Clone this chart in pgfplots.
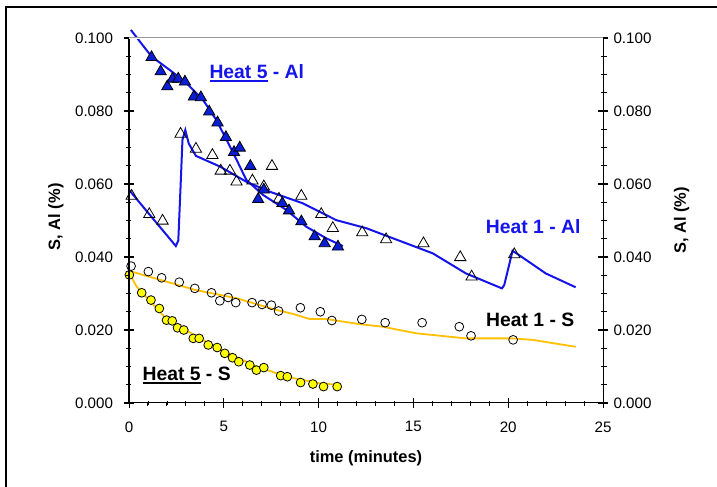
\documentclass[border=0pt]{standalone}
\usepackage{fontspec}
\setmainfont{Liberation Sans}
\usepackage{pgfplots}
\pgfplotsset{compat=1.18}

\definecolor{alblue}{RGB}{20,20,235}
\definecolor{sgold}{RGB}{255,192,0}
\definecolor{markblue}{RGB}{10,30,215}
\definecolor{markyellow}{RGB}{255,255,0}

% thick underline for part of a label
\newcommand{\thickul}[1]{\setbox0\hbox{#1}\rlap{\rule[-3.4bp]{\wd0}{1.8bp}}\box0{}}

\begin{document}
\begin{tikzpicture}[x=1bp,y=1bp]
\useasboundingbox (-129,-84) rectangle (588,403);
% chart frame
\draw[line width=2.2bp] (-123,-95) -- (-123,396) -- (600,396);

\pgfplotsset{
  common/.style={
    at={(0,0)}, anchor=south west, scale only axis,
    width=474bp, height=365bp,
    xmin=0, xmax=25, ymin=0, ymax=0.1,
    ytick={0,0.02,0.04,0.06,0.08,0.1},
    minor y tick num=3,
    tick align=center, major tick length=10bp, minor tick length=4bp,
    tick style={black, line width=0.8bp},
    axis line style={black, line width=1bp},
    ticklabel style={font=\fontsize{15.2}{18}\selectfont},
    /pgf/number format/assume math mode=true,
    yticklabel={\pgfmathprintnumber[fixed,fixed zerofill,precision=3]{\tick}},
    scaled y ticks=false,
    label style={font=\bfseries\fontsize{16.5}{19}\selectfont},
  }
}

% left and bottom axes, with ticks on both vertical sides
\begin{axis}[common,
  xtick={0,5,10,15,20,25}, minor x tick num=4,
  xtick pos=left, xticklabel pos=left,
  ytick pos=both, yticklabel pos=left,
  yticklabel shift=7.5bp,
  xticklabel shift=10bp,
  xlabel={time (minutes)},
  xlabel style={at={(axis description cs:0.5,0)}, anchor=center, yshift=-55.5bp},
  ylabel={S, Al (\%)},
  ylabel style={at={(axis description cs:0,0.51)}, anchor=center, yshift=73bp},
  clip=false,
]
% model curves
\addplot[alblue, line width=2bp, no marks] coordinates {
(0.10,0.1022) (1.19,0.0949) (2.16,0.0912) (3.04,0.0876) (3.91,0.0830)
(4.61,0.0775) (5.49,0.0686) (6.19,0.0611) (7.07,0.0570) (8.30,0.0529)
(9.35,0.0483) (10.41,0.0451) (11.28,0.0430)};
\addplot[alblue, line width=2bp, no marks] coordinates {
(0,0.0584) (2.47,0.0430) (2.60,0.0445) (2.72,0.0593) (2.82,0.0721) (2.97,0.0748)
(3.15,0.0711) (3.53,0.0677) (4.79,0.0648) (6.19,0.0606) (7.42,0.0579)
(9.17,0.0547) (10.93,0.0501) (12.51,0.0479) (16.02,0.0410) (17.77,0.0355)
(19.67,0.0314) (19.79,0.0323) (20.23,0.0417) (20.58,0.0405) (21.98,0.0355)
(23.56,0.0317)};
\addplot[sgold, line width=1.8bp, no marks] coordinates {
(0,0.0362) (3.47,0.0310) (5.67,0.0287) (7.77,0.0255) (8.65,0.0244)
(9.53,0.0230) (10.41,0.0230) (12.16,0.0216) (13.38,0.0209) (15.14,0.0191)
(17.77,0.0177) (20.23,0.0177) (21.28,0.0173) (23.56,0.0154)};
\addplot[sgold, line width=1.8bp, no marks] coordinates {
(0,0.0357) (0.40,0.0319) (1.98,0.0230) (4.26,0.0162) (6.54,0.0104)
(8.30,0.0072) (10.05,0.0054) (11.19,0.0049)};

% Heat 1 - S
\addplot[only marks, mark=o, mark size=4.4bp, mark options={draw=black, line width=0.8bp}] coordinates {
(0.11,0.0375) (1.02,0.0360) (1.72,0.0343) (2.65,0.0331) (3.47,0.0314)
(4.35,0.0302) (4.79,0.0280) (5.23,0.0289) (5.63,0.0275) (6.49,0.0275)
(7.02,0.0270) (7.51,0.0268) (7.89,0.0252) (9.04,0.0261) (10.09,0.0250)
(10.70,0.0226) (12.28,0.0229) (13.51,0.0220) (15.46,0.0220) (17.42,0.0209)
(18.04,0.0184) (20.26,0.0173)};
% Heat 5 - S
\addplot[only marks, mark=*, mark size=4.4bp, mark options={fill=markyellow, draw=black, line width=0.8bp}] coordinates {
(0.02,0.0351) (0.67,0.0302) (1.16,0.0282) (1.60,0.0259) (1.98,0.0227)
(2.28,0.0225) (2.56,0.0206) (2.89,0.0200) (3.39,0.0177) (3.70,0.0177)
(4.18,0.0159) (4.65,0.0152) (5.05,0.0136) (5.46,0.0124) (5.79,0.0113)
(6.37,0.0104) (6.72,0.0090) (7.11,0.0097) (8.00,0.0075) (8.35,0.0072)
(9.05,0.0056) (9.70,0.0052) (10.26,0.0045) (10.98,0.0045)};
% Heat 1 - Al
\addplot[only marks, mark=triangle, mark size=6.5bp, mark options={draw=black, line width=0.8bp}] coordinates {
(0.14,0.0567) (1.07,0.0517) (1.77,0.0499) (2.72,0.0737) (3.53,0.0696)
(4.40,0.0679) (4.84,0.0636) (5.32,0.0636) (5.67,0.0606) (6.51,0.0609)
(7.11,0.0593) (7.54,0.0649) (7.91,0.0559) (9.09,0.0567) (10.14,0.0517)
(10.75,0.0479) (12.30,0.0467) (13.56,0.0448) (15.53,0.0437) (17.47,0.0399)
(18.07,0.0346) (20.32,0.0407)};
% Heat 5 - Al
\addplot[only marks, mark=triangle*, mark size=6.5bp, mark options={fill=markblue, draw=black, line width=0.8bp}] coordinates {
(1.19,0.0947) (1.67,0.0908) (2.02,0.0867) (2.30,0.0888) (2.60,0.0888)
(2.95,0.0880) (3.42,0.0839) (3.79,0.0837) (4.23,0.0798) (4.67,0.0768)
(5.11,0.0728) (5.54,0.0687) (5.84,0.0699) (6.40,0.0649) (6.81,0.0558)
(7.11,0.0584) (8.09,0.0547) (8.44,0.0527) (9.09,0.0497) (9.79,0.0456)
(10.32,0.0437) (11.02,0.0428)};

\node[anchor=base, text=alblue, font=\bfseries\fontsize{19.4}{22}\selectfont] at (axis cs:6.74,0.0890) {\thickul{Heat 5} - Al};
\node[anchor=base, text=alblue, font=\bfseries\fontsize{19.4}{22}\selectfont] at (axis cs:21.32,0.0465) {Heat 1 - Al};
\node[anchor=base, text=black, font=\bfseries\fontsize{19.4}{22}\selectfont] at (axis cs:21.16,0.0209) {Heat 1 - S};
\node[anchor=base, text=black, font=\bfseries\fontsize{19.4}{22}\selectfont] at (axis cs:3.04,0.0061) {\thickul{Heat 5} - S};
\end{axis}

% right-hand tick labels and title
\begin{axis}[common,
  hide x axis,
  ytick pos=right, yticklabel pos=right,
  yticklabel shift=2bp,
  ylabel={S, Al (\%)},
  ylabel style={at={(axis description cs:1,0.50)}, anchor=center, yshift=-78.7bp},
]
\end{axis}

% axis lines and tick marks of the plot area (474bp x 365bp)
\begin{scope}[black, line width=1bp]
  \draw (0,365) -- (0,0) -- (474,0);
  \draw (474,0) -- (474,365);
  \foreach \i in {0,...,5} {
    \draw (94.8*\i,-5) -- (94.8*\i,5);
    \draw (-5,73*\i) -- (5,73*\i);
    \draw (469,73*\i) -- (479,73*\i);
  }
  \foreach \i in {1,...,24} \draw (18.96*\i,0) -- (18.96*\i,-3.5);
  \foreach \i in {1,...,19} {
    \draw (0,18.25*\i) -- (-3.5,18.25*\i);
    \draw (474,18.25*\i) -- (477.5,18.25*\i);
  }
\end{scope}

% top edge of the plot area
\draw[white, line width=2bp] (0,365) -- (474,365);
\draw[gray!80, line width=1bp] (0,365) -- (474,365);
\end{tikzpicture}
\end{document}
